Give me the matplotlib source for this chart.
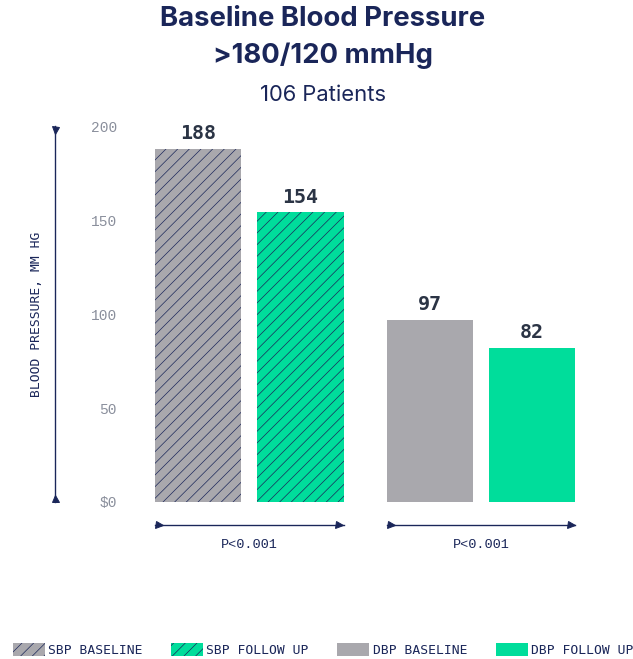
import matplotlib
matplotlib.use("Agg")
from matplotlib import pyplot as plt
from matplotlib.patches import Patch

# readings, mm Hg
series = ["SBP BASELINE", "SBP FOLLOW UP", "DBP BASELINE", "DBP FOLLOW UP"]
values = [188, 154, 97, 82]
positions = [0, 1, 2.26, 3.26]
p_labels = ["P<0.001", "P<0.001"]
yticks = [0, 50, 100, 150, 200]
ytick_labels = ["$0", "50", "100", "150", "200"]

NAVY = "#1a2659"
GRAY = "#a9a8ad"
GREEN = "#00dd9b"
colors = [GRAY, GREEN, GRAY, GREEN]
hatches = ["//", "//", "", ""]

DPI = 70
W, H = 633, 659


def pt(px):
    return px * 72 / DPI


plt.rcParams["hatch.color"] = NAVY
plt.rcParams["hatch.linewidth"] = 0.7

fig = plt.figure(figsize=(W / DPI, H / DPI), dpi=DPI)
ax = fig.add_axes([130 / W, 157 / H, 470 / W, 376 / H])

bw = 0.84
for x, v, c, h in zip(positions, values, colors, hatches):
    ax.bar(x, v, width=bw, color=c, hatch=h)
    ax.annotate(str(v), (x, v), xytext=(0, pt(15)), textcoords="offset points",
                ha="center", va="center", fontsize=pt(20), fontweight="bold",
                family="DejaVu Sans Mono", color="#2b3445")

ax.set_xlim(-0.663, 3.922)
ax.set_ylim(0, 200)
ax.set_yticks(yticks)
ax.set_yticklabels(ytick_labels, family="Liberation Mono", fontsize=pt(14.5),
                   color="#8a8f9c")
ax.tick_params(axis="y", length=0, pad=pt(13))
ax.set_xticks([])
for s in ax.spines.values():
    s.set_visible(False)

# vertical axis arrow
ax.plot([-1.395, -1.395], [0, 200], color=NAVY, lw=1.4, clip_on=False)
ax.plot([-1.395], [198], marker="v", color=NAVY, ms=pt(7), clip_on=False)
ax.plot([-1.395], [2], marker="^", color=NAVY, ms=pt(7), clip_on=False)
ax.text(-1.571, 100, "BLOOD PRESSURE, MM HG", rotation=90, ha="center",
        va="center", family="DejaVu Sans Mono", fontsize=pt(13), color=NAVY)

# significance brackets under each pair
for i, lab in enumerate(p_labels):
    x0 = positions[2 * i] - bw / 2
    x1 = positions[2 * i + 1] + bw / 2
    ax.plot([x0, x1], [-12.2, -12.2], color=NAVY, lw=1.4, clip_on=False)
    ax.plot([x0 + 0.04, x1 - 0.04], [-12.2, -12.2], ls="none", marker=">",
            color=NAVY, ms=pt(7), clip_on=False)
    ax.text((x0 + x1) / 2, -22.9, lab, ha="center", va="center",
            family="Liberation Mono", fontsize=pt(13.5), color=NAVY)

fig.text(323 / W, 1 - 19 / H, "Baseline Blood Pressure", ha="center", va="center",
         family="Inter", fontweight="bold", fontsize=pt(27.5), color=NAVY)
fig.text(323 / W, 1 - 56 / H, ">180/120 mmHg", ha="center", va="center",
         family="Inter", fontweight="bold", fontsize=pt(27.5), color=NAVY)
fig.text(323 / W, 1 - 95 / H, "106 Patients", ha="center", va="center",
         family="Inter", fontsize=pt(22), color=NAVY)

handles = [Patch(facecolor=c, hatch=h, label=s)
           for s, c, h in zip(series, colors, hatches)]
fig.legend(handles=handles, loc="center", bbox_to_anchor=(323 / W, 9 / H), ncol=4,
           frameon=False, prop={"family": "DejaVu Sans Mono", "size": pt(13)},
           labelcolor=NAVY, handlelength=2.46, handleheight=1.08,
           handletextpad=0.25, columnspacing=2.2, borderpad=0, borderaxespad=0)

fig.savefig("out.png", dpi=DPI, facecolor="white")
